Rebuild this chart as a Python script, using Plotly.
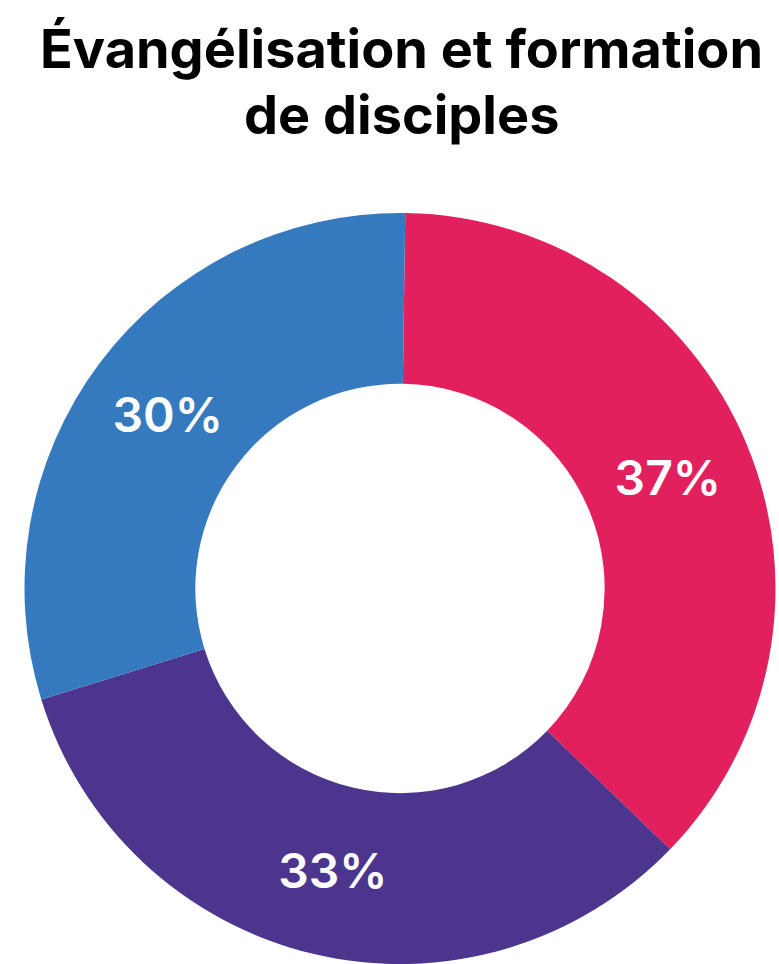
import plotly.graph_objects as go

categories = ["Rouge", "Violet", "Bleu"]
values = [37, 33, 30]
colors = ["#E2205D", "#4B358D", "#357ABE"]
title_lines = ["Évangélisation et formation", "de disciples"]

W, H = 779, 964

def px_x(x):
    return x / W

def px_y(y):
    return 1 - y / H

fig = go.Figure(
    go.Pie(
        labels=categories,
        values=values,
        hole=0.545,
        sort=False,
        direction="clockwise",
        rotation=0.8,
        marker=dict(colors=colors, line=dict(width=0)),
        textinfo="percent",
        texttemplate="%{percent:.0%}",
        textposition="inside",
        insidetextorientation="horizontal",
        textfont=dict(family="Inter", size=48, color="white", weight=600),
        domain=dict(x=[px_x(24), px_x(776)], y=[0, px_y(213)]),
        showlegend=False,
        hoverinfo="skip",
    )
)

annotations = []
for line, cy in zip(title_lines, [48, 114]):
    annotations.append(
        dict(
            text=line,
            x=px_x(401),
            y=px_y(cy),
            xref="paper",
            yref="paper",
            xanchor="center",
            yanchor="middle",
            showarrow=False,
            font=dict(family="Inter", size=54, color="black", weight=700),
        )
    )

fig.update_layout(
    width=W,
    height=H,
    margin=dict(l=0, r=0, t=0, b=0),
    paper_bgcolor="white",
    plot_bgcolor="white",
    annotations=annotations,
    uniformtext=dict(minsize=10, mode="show"),
)

fig.write_html(
    "out.html",
    config={"displayModeBar": False},
    post_script="document.body.style.margin='0';document.body.style.overflow='hidden';",
)
